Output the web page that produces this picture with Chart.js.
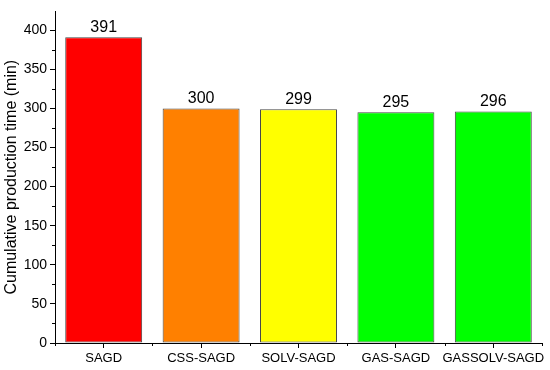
<!DOCTYPE html>
<html>
<head>
<meta charset="utf-8">
<script src="https://cdn.jsdelivr.net/npm/chart.js@4.4.1/dist/chart.umd.min.js"></script>
<style>
html,body{margin:0;padding:0;background:#fff;}
#wrap{width:550px;height:370px;position:relative;}
</style>
</head>
<body>
<div id="wrap"><canvas id="c" width="550" height="370"></canvas></div>
<script>
const categories = ["SAGD", "CSS-SAGD", "SOLV-SAGD", "GAS-SAGD", "GASSOLV-SAGD"];
const values = [391, 300, 299, 295, 296];
const barColors = ["#FF0000", "#FF8000", "#FFFF00", "#00FF00", "#00FF00"];
const yTicks = [0, 50, 100, 150, 200, 250, 300, 350, 400];
const yTitle = "Cumulative production time (min)";

const extras = {
  id: 'extras',
  afterDraw(chart) {
    const ctx = chart.ctx;
    const x = chart.scales.x, y = chart.scales.y;
    const area = chart.chartArea;
    ctx.save();
    ctx.strokeStyle = '#000';
    ctx.lineWidth = 1;
    // minor y ticks
    for (let v = 25; v < 424; v += 50) {
      const py = Math.round(y.getPixelForValue(v)) + 0.5;
      ctx.beginPath();
      ctx.moveTo(area.left - 3, py);
      ctx.lineTo(area.left, py);
      ctx.stroke();
    }
    // minor x ticks at category boundaries
    for (let i = 0; i <= categories.length; i++) {
      const px = Math.round(x.getPixelForValue(i - 0.5)) + 0.5;
      ctx.beginPath();
      ctx.moveTo(px, area.bottom);
      ctx.lineTo(px, area.bottom + 3);
      ctx.stroke();
    }
    // data labels
    ctx.fillStyle = '#000';
    ctx.font = '16px Arial, "Liberation Sans", sans-serif';
    ctx.textAlign = 'center';
    ctx.textBaseline = 'bottom';
    const meta = chart.getDatasetMeta(0);
    meta.data.forEach((bar, i) => {
      ctx.fillText(String(values[i]), bar.x, bar.y - 2);
    });
    ctx.restore();
  }
};

new Chart(document.getElementById('c'), {
  type: 'bar',
  data: {
    labels: categories,
    datasets: [{
      data: values,
      backgroundColor: barColors,
      borderColor: '#454545',
      borderWidth: 1,
      borderSkipped: false,
      categoryPercentage: 1.0,
      barPercentage: 0.79
    }]
  },
  options: {
    responsive: false,
    animation: false,
    layout: { padding: { top: 3, right: 8, left: 2, bottom: 0 } },
    plugins: { legend: { display: false }, tooltip: { enabled: false } },
    scales: {
      x: {
        offset: true,
        grid: { display: true, offset: false, drawOnChartArea: false, drawTicks: true, tickLength: 5, tickColor: '#000', color: '#000' },
        border: { display: true, color: '#000', width: 1 },
        ticks: { color: '#000', font: { family: 'Arial, "Liberation Sans", sans-serif', size: 13 }, padding: 3, maxRotation: 0, autoSkip: false },
        afterFit(s) { s.height = 27; }
      },
      y: {
        min: 0,
        max: 424,
        afterBuildTicks(s) { s.ticks = yTicks.map(v => ({ value: v })); },
        grid: { display: true, drawOnChartArea: false, drawTicks: true, tickLength: 5, tickColor: '#000', color: '#000' },
        border: { display: true, color: '#000', width: 1 },
        ticks: { color: '#000', font: { family: 'Arial, "Liberation Sans", sans-serif', size: 14 }, padding: 3 },
        title: { display: true, text: yTitle, color: '#000', font: { family: 'Arial, "Liberation Sans", sans-serif', size: 16 }, padding: { top: 0, bottom: 2 } },
        afterFit(s) { s.width = 53; }
      }
    }
  },
  plugins: [extras]
});
</script>
</body>
</html>
